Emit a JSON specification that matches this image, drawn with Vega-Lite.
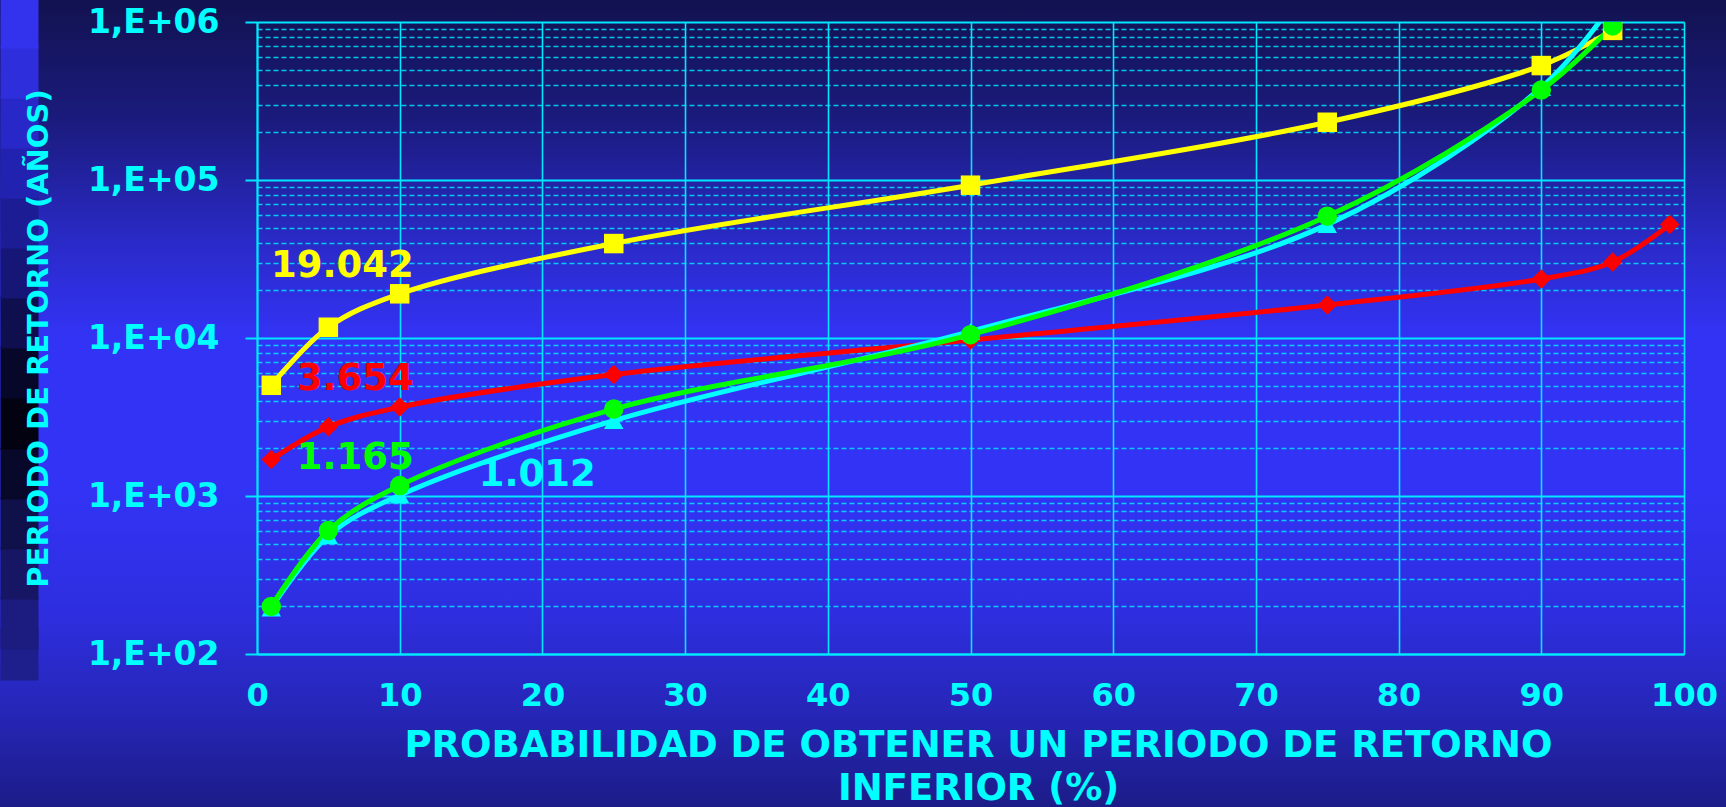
{
  "$schema": "https://vega.github.io/schema/vega-lite/v6.json",
  "width": 1427,
  "height": 632,
  "autosize": {"type": "none"},
  "padding": {"left": 257, "top": 22, "right": 42, "bottom": 153},
  "background": "#2a2ac8",
  "config": {
    "locale": {"number": {"decimal": ",", "thousands": ".", "grouping": [3], "currency": ["", ""]}},
    "view": {
      "fill": {"gradient": "linear", "x1": 0, "y1": -0.0348, "x2": 0, "y2": 1.2421,
        "stops": [
          {"offset": 0, "color": "#121250"},
          {"offset": 0.15, "color": "#1b1b7e"},
          {"offset": 0.3, "color": "#2a2ac8"},
          {"offset": 0.42, "color": "#3333f6"},
          {"offset": 0.6, "color": "#3333f6"},
          {"offset": 0.76, "color": "#2e2ee0"},
          {"offset": 0.88, "color": "#2626b8"},
          {"offset": 1, "color": "#1c1c88"}
        ]},
      "stroke": {"gradient": "linear", "x1": 0, "y1": -0.0348, "x2": 0, "y2": 1.2421,
        "stops": [
          {"offset": 0, "color": "#121250"},
          {"offset": 0.15, "color": "#1b1b7e"},
          {"offset": 0.3, "color": "#2a2ac8"},
          {"offset": 0.42, "color": "#3333f6"},
          {"offset": 0.6, "color": "#3333f6"},
          {"offset": 0.76, "color": "#2e2ee0"},
          {"offset": 0.88, "color": "#2626b8"},
          {"offset": 1, "color": "#1c1c88"}
        ]},
      "strokeWidth": 540
    }
  },
  "data": {
    "values": [
      {"serie": "y", "prob": 1, "periodo": 5020},
      {"serie": "y", "prob": 5, "periodo": 11700},
      {"serie": "y", "prob": 10, "periodo": 19042},
      {"serie": "y", "prob": 25, "periodo": 39600},
      {"serie": "y", "prob": 50, "periodo": 92700},
      {"serie": "y", "prob": 75, "periodo": 232000},
      {"serie": "y", "prob": 90, "periodo": 530000},
      {"serie": "y", "prob": 95, "periodo": 885000},
      {"serie": "r", "prob": 1, "periodo": 1700},
      {"serie": "r", "prob": 5, "periodo": 2740},
      {"serie": "r", "prob": 10, "periodo": 3654},
      {"serie": "r", "prob": 25, "periodo": 5870},
      {"serie": "r", "prob": 50, "periodo": 9700},
      {"serie": "r", "prob": 75, "periodo": 16200},
      {"serie": "r", "prob": 90, "periodo": 23650},
      {"serie": "r", "prob": 95, "periodo": 30300},
      {"serie": "r", "prob": 99, "periodo": 52200},
      {"serie": "c", "prob": 1, "periodo": 195},
      {"serie": "c", "prob": 5, "periodo": 560},
      {"serie": "c", "prob": 10, "periodo": 1012},
      {"serie": "c", "prob": 25, "periodo": 3000},
      {"serie": "c", "prob": 50, "periodo": 11000},
      {"serie": "c", "prob": 75, "periodo": 52200},
      {"serie": "c", "prob": 90, "periodo": 385000},
      {"serie": "c", "prob": 95, "periodo": 1300000},
      {"serie": "g", "prob": 1, "periodo": 200},
      {"serie": "g", "prob": 5, "periodo": 604},
      {"serie": "g", "prob": 10, "periodo": 1165},
      {"serie": "g", "prob": 25, "periodo": 3550},
      {"serie": "g", "prob": 50, "periodo": 10500},
      {"serie": "g", "prob": 75, "periodo": 59000},
      {"serie": "g", "prob": 90, "periodo": 371000},
      {"serie": "g", "prob": 95, "periodo": 944000}
    ]
  },
  "resolve": {"axis": {"y": "independent"}},
  "layer": [
    {
      "mark": {"type": "point", "opacity": 0},
      "encoding": {
        "y": {
          "field": "periodo", "type": "quantitative",
          "scale": {"type": "log", "domain": [100, 1000000], "nice": false},
          "axis": {
            "orient": "left", "offset": 219,
            "values": [1000000, 482200, 232500, 112070, 54030, 26050, 12560, 6053, 2918, 1407, 678.3, 327, 157.7, 100],
            "labels": false, "domain": false, "grid": false, "title": null,
            "ticks": true, "tickSize": 38, "tickWidth": 52, "tickCap": "butt",
            "tickColor": {
              "condition": [
                {"test": "datum.value > 694000", "value": "#3333ee"},
                {"test": "datum.value > 334900", "value": "#2e2edc"},
                {"test": "datum.value > 161400", "value": "#2828c8"},
                {"test": "datum.value > 77800", "value": "#2222b0"},
                {"test": "datum.value > 37520", "value": "#1c1c94"},
                {"test": "datum.value > 18090", "value": "#161676"},
                {"test": "datum.value > 8720", "value": "#0f0f50"},
                {"test": "datum.value > 4200", "value": "#07072a"},
                {"test": "datum.value > 2026", "value": "#020210"},
                {"test": "datum.value > 977", "value": "#08082a"},
                {"test": "datum.value > 471", "value": "#10104a"},
                {"test": "datum.value > 227", "value": "#161664"},
                {"test": "datum.value > 126", "value": "#1b1b80"}
              ],
              "value": "#1e1e8c"
            }
          }
        }
      }
    },
    {
      "encoding": {
        "x": {
          "field": "prob", "type": "quantitative",
          "scale": {"domain": [0, 100], "nice": false, "zero": false},
          "axis": {
            "values": [0, 10, 20, 30, 40, 50, 60, 70, 80, 90, 100],
            "title": ["PROBABILIDAD DE OBTENER UN PERIODO DE RETORNO", "INFERIOR (%)"],
            "titleFont": "DejaVu Sans", "titleFontWeight": "bold", "titleFontSize": 37,
            "titleColor": "#00ffff", "titleLineHeight": 43,
            "titleBaseline": "alphabetic", "titleY": 102, "titleX": 721,
            "labelFont": "DejaVu Sans", "labelFontWeight": "bold", "labelFontSize": 32,
            "labelColor": "#00ffff", "labelPadding": 26, "labelFlush": false, "labelOverlap": false,
            "ticks": false,
            "domain": true, "domainColor": "#00e8ff", "domainWidth": 2,
            "grid": true, "gridColor": "#00e8ff", "gridWidth": 1.6, "gridOpacity": 1
          }
        },
        "y": {
          "field": "periodo", "type": "quantitative",
          "scale": {"type": "log", "domain": [100, 1000000], "nice": false},
          "axis": {
            "orient": "left",
            "values": [100, 200, 300, 400, 500, 600, 700, 800, 900,
                       1000, 2000, 3000, 4000, 5000, 6000, 7000, 8000, 9000,
                       10000, 20000, 30000, 40000, 50000, 60000, 70000, 80000, 90000,
                       100000, 200000, 300000, 400000, 500000, 600000, 700000, 800000, 900000,
                       1000000],
            "labelExpr": "abs(log(datum.value)/LN10 - round(log(datum.value)/LN10)) < 0.001 ? '1,E+0' + round(log(datum.value)/LN10) : ''",
            "title": "PERIODO DE RETORNO (AÑOS)",
            "titleFont": "DejaVu Sans", "titleFontWeight": "bold", "titleFontSize": 29,
            "titleColor": "#00ffff", "titleX": -219, "titleBaseline": "middle",
            "labelFont": "DejaVu Sans", "labelFontWeight": "bold", "labelFontSize": 33,
            "labelColor": "#00ffff", "labelPadding": 26, "labelFlush": false, "labelOverlap": false,
            "ticks": true, "tickSize": 12, "tickColor": "#00e8ff", "tickWidth": 2,
            "tickOpacity": {"condition": {"test": "abs(log(datum.value)/LN10 - round(log(datum.value)/LN10)) < 0.001", "value": 1}, "value": 0},
            "domain": true, "domainColor": "#00e8ff", "domainWidth": 2,
            "grid": true, "gridColor": "#00e8ff",
            "gridDash": {"condition": {"test": "abs(log(datum.value)/LN10 - round(log(datum.value)/LN10)) < 0.001", "value": []}, "value": [5, 3]},
            "gridWidth": {"condition": {"test": "abs(log(datum.value)/LN10 - round(log(datum.value)/LN10)) < 0.001", "value": 2}, "value": 1.3},
            "gridOpacity": {"condition": {"test": "abs(log(datum.value)/LN10 - round(log(datum.value)/LN10)) < 0.001", "value": 1}, "value": 0.85}
          }
        },
        "color": {
          "field": "serie", "type": "nominal",
          "scale": {"domain": ["y", "r", "c", "g"], "range": ["#ffff00", "#ff0000", "#00ffff", "#00ff00"]},
          "legend": null
        }
      },
      "layer": [
        {
          "mark": {"type": "line", "interpolate": "catmull-rom", "strokeWidth": 5, "clip": true},
          "encoding": {"detail": {"field": "serie"}}
        },
        {
          "mark": {"type": "point", "filled": true, "opacity": 1, "size": 380, "clip": true},
          "encoding": {
            "shape": {
              "field": "serie", "type": "nominal",
              "scale": {"domain": ["y", "r", "c", "g"], "range": ["square", "diamond", "triangle-up", "circle"]},
              "legend": null
            }
          }
        },
        {
          "transform": [{"filter": "datum.prob == 10 && datum.serie != 'c'"}],
          "mark": {"type": "text", "align": "right", "baseline": "alphabetic", "dx": 14, "dy": -17,
            "font": "DejaVu Sans", "fontWeight": "bold", "fontSize": 37},
          "encoding": {"text": {"field": "periodo", "type": "quantitative", "format": ",d"}}
        },
        {
          "transform": [{"filter": "datum.prob == 10 && datum.serie == 'c'"}],
          "mark": {"type": "text", "align": "left", "baseline": "alphabetic", "dx": 79, "dy": -9,
            "font": "DejaVu Sans", "fontWeight": "bold", "fontSize": 37},
          "encoding": {"text": {"field": "periodo", "type": "quantitative", "format": ",d"}}
        }
      ]
    }
  ]
}
